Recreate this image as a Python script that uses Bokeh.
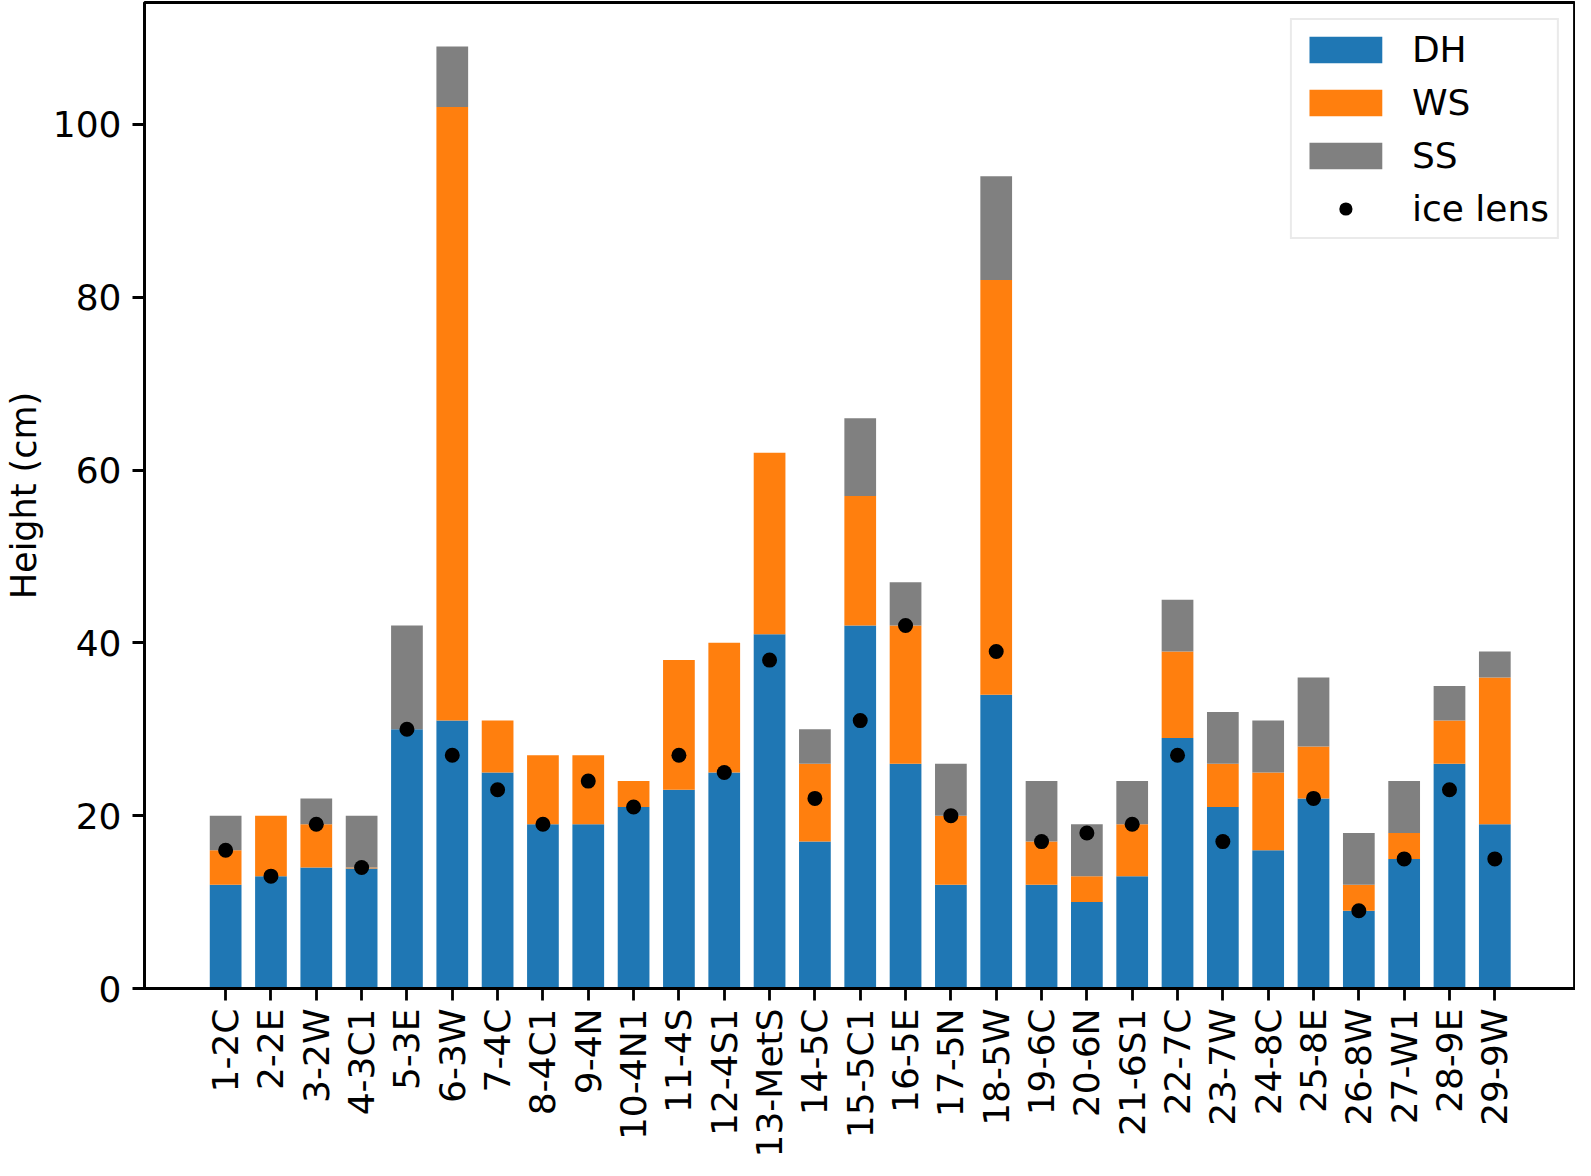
import math
from bokeh.plotting import figure
from bokeh.models import ColumnDataSource, FixedTicker, Range1d, Legend, LegendItem
from bokeh.embed import file_html
from bokeh.resources import INLINE

# ---- data ----
sites = ["1-2C", "2-2E", "3-2W", "4-3C1", "5-3E", "6-3W", "7-4C", "8-4C1", "9-4N",
         "10-4N1", "11-4S", "12-4S1", "13-MetS", "14-5C", "15-5C1", "16-5E", "17-5N",
         "18-5W", "19-6C", "20-6N", "21-6S1", "22-7C", "23-7W", "24-8C", "25-8E",
         "26-8W", "27-W1", "28-9E", "29-9W"]
dh = [12, 13, 14, 13.9, 30, 31, 25, 19, 19, 21, 23, 25, 41, 17, 42, 26, 12, 34, 12,
      10, 13, 29, 21, 16, 22, 9, 15, 26, 19]
ws = [4, 7, 5, 0.1, 0, 71, 6, 8, 8, 3, 15, 15, 21, 9, 15, 16, 8, 48, 5, 3, 6, 10, 5,
      9, 6, 3, 3, 5, 17]
ss = [4, 0, 3, 6, 12, 7, 0, 0, 0, 0, 0, 0, 0, 4, 9, 5, 6, 12, 7, 6, 5, 6, 6, 6, 8,
      6, 6, 4, 3]
ice_lens = [16, 13, 19, 14, 30, 27, 23, 19, 24, 21, 27, 25, 38, 22, 31, 42, 20, 39,
            17, 18, 19, 27, 17, float("nan"), 22, 9, 15, 23, 15]
y_ticks = [0, 20, 40, 60, 80, 100]

FONT = "DejaVu Sans"
TICK_FS = "36px"
LABEL_FS = "35px"
LEGEND_FS = "36px"

idx = list(range(len(sites)))
src = ColumnDataSource(dict(x=idx, DH=dh, WS=ws, SS=ss, ice=ice_lens))

p = figure(width=1575, height=1160, output_backend="svg", toolbar_location=None,
           x_range=Range1d(-1.79, len(sites) - 1 + 1.78), y_range=Range1d(0, 114.1),
           min_border_left=128, min_border_top=2, min_border_right=0, min_border_bottom=0)

renderers = p.vbar_stack(["DH", "WS", "SS"], x="x", width=0.7, source=src,
                         color=["#1f77b4", "#ff7f0e", "#808080"], line_width=0)
dots = p.scatter(x="x", y="ice", source=src, size=15, color="black", line_width=0)

p.xgrid.visible = False
p.ygrid.visible = False
p.outline_line_color = "black"
p.outline_line_width = 2.8

for ax in (p.xaxis[0], p.yaxis[0]):
    ax.axis_line_width = 2.8
    ax.major_tick_line_width = 2.8
    ax.major_tick_out = 12
    ax.major_tick_in = 0
    ax.minor_tick_line_color = None
    ax.major_label_text_font = FONT
    ax.major_label_text_font_size = TICK_FS
    ax.major_label_text_color = "black"
    ax.axis_line_color = "black"

p.xaxis.ticker = FixedTicker(ticks=idx)
p.xaxis.major_label_overrides = {i: s for i, s in enumerate(sites)}
p.xaxis.major_label_orientation = math.pi / 2
p.xaxis.major_label_standoff = 8
p.xaxis.axis_label_standoff = 0

p.yaxis.ticker = FixedTicker(ticks=y_ticks)
p.yaxis.major_label_standoff = 11
p.yaxis.axis_label = "Height (cm)"
p.yaxis.axis_label_text_font = FONT
p.yaxis.axis_label_text_font_size = LABEL_FS
p.yaxis.axis_label_text_font_style = "normal"
p.yaxis.axis_label_text_color = "black"
p.yaxis.axis_label_standoff = 6

legend = Legend(items=[
    LegendItem(label="DH", renderers=[renderers[0]]),
    LegendItem(label="WS", renderers=[renderers[1]]),
    LegendItem(label="SS", renderers=[renderers[2]]),
    LegendItem(label="ice lens", renderers=[dots]),
], location="top_right")
legend.label_text_font = FONT
legend.label_text_font_size = LEGEND_FS
legend.label_text_color = "black"
legend.glyph_width = 91
legend.glyph_height = 33
legend.label_height = 42
legend.spacing = 11
legend.padding = 8
legend.margin = 16
legend.label_standoff = 21
legend.border_line_color = "#d6d6d6"
legend.border_line_width = 2.8
legend.background_fill_color = "white"
legend.background_fill_alpha = 0.8
p.add_layout(legend)

open("out.html", "w").write(file_html(p, INLINE))
